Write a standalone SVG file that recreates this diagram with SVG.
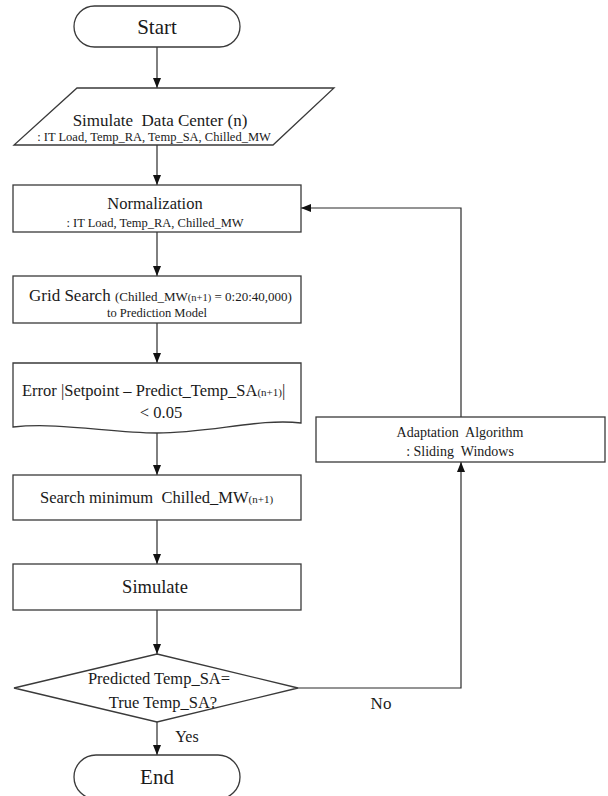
<svg xmlns="http://www.w3.org/2000/svg" width="608" height="796" viewBox="0 0 608 796">
<style>
.shape{fill:#fff;stroke:#3a3a3a;stroke-width:1.3}
.conn{fill:none;stroke:#2a2a2a;stroke-width:1.2}
text{font-family:"Liberation Serif","Times New Roman",serif;fill:#1a1a1a}
.c{text-anchor:middle}
</style>
<defs>
<marker id="arr" markerUnits="userSpaceOnUse" markerWidth="10" markerHeight="10" viewBox="0 0 10 10" refX="10" refY="5" orient="auto">
<path d="M0,1 L10,5 L0,9 Z" fill="#111"/>
</marker>
</defs>
<rect width="608" height="796" fill="#fff"/>
<g id="connectors">
<path class="conn" d="M157,47 V88" marker-end="url(#arr)"/>
<path class="conn" d="M157,145 V185" marker-end="url(#arr)"/>
<path class="conn" d="M157,232 V276" marker-end="url(#arr)"/>
<path class="conn" d="M157,323 V363" marker-end="url(#arr)"/>
<path class="conn" d="M157,433 V475" marker-end="url(#arr)"/>
<path class="conn" d="M157,520 V564" marker-end="url(#arr)"/>
<path class="conn" d="M157,610 V654" marker-end="url(#arr)"/>
<path class="conn" d="M157,722 V755" marker-end="url(#arr)"/>
<path class="conn" d="M298,688 H461 V462" marker-end="url(#arr)"/>
<path class="conn" d="M461,417 V208 H301" marker-end="url(#arr)"/>
<text x="187" y="742" class="c" font-size="16">Yes</text>
<text x="381" y="709" class="c" font-size="17">No</text>
</g>
<g id="start">
<rect class="shape" x="74" y="6" width="166" height="41" rx="20.5"/>
<text x="157" y="34" class="c" font-size="21">Start</text>
</g>
<g id="simulate-dc">
<polygon class="shape" points="77,88 334,88 273,145 14,145"/>
<text x="160" y="126" class="c" font-size="17" xml:space="preserve">Simulate  Data Center (n)</text>
<text x="154" y="141" class="c" font-size="12.5">: IT Load, Temp_RA, Temp_SA, Chilled_MW</text>
</g>
<g id="normalization">
<rect class="shape" x="13" y="185" width="288" height="47"/>
<text x="155" y="209" class="c" font-size="16.5">Normalization</text>
<text x="155" y="227" class="c" font-size="12.5">: IT Load, Temp_RA, Chilled_MW</text>
</g>
<g id="grid-search">
<rect class="shape" x="13" y="276" width="288" height="47"/>
<text x="29" y="301" font-size="17" xml:space="preserve">Grid Search <tspan font-size="13">(Chilled_MW</tspan><tspan font-size="10.5">(n+1)</tspan><tspan font-size="13"> = 0:20:40,000)</tspan></text>
<text x="157" y="317" class="c" font-size="12.5">to Prediction Model</text>
</g>
<g id="error-check">
<path class="shape" d="M13,363 H301 V423 C260,418 210,433 157,433 C110,433 60,422 13,427 Z"/>
<text x="22" y="396" font-size="16.5">Error |Setpoint – Predict_Temp_SA<tspan font-size="11">(n+1)</tspan>|</text>
<text x="161" y="418" class="c" font-size="16.5">&lt; 0.05</text>
</g>
<g id="search-min">
<rect class="shape" x="13" y="475" width="288" height="45"/>
<text x="40" y="503" font-size="16.5" xml:space="preserve">Search minimum  Chilled_MW<tspan font-size="11">(n+1)</tspan></text>
</g>
<g id="simulate">
<rect class="shape" x="13" y="564" width="288" height="46"/>
<text x="155" y="593" class="c" font-size="18.5">Simulate</text>
</g>
<g id="decision">
<polygon class="shape" points="157,654 298,688 157,722 14,688"/>
<text x="159" y="684" class="c" font-size="16.5">Predicted Temp_SA=</text>
<text x="163" y="708" class="c" font-size="16.5">True Temp_SA?</text>
</g>
<g id="adaptation">
<rect class="shape" x="316" y="417" width="289" height="45"/>
<text x="460" y="437" class="c" font-size="14" xml:space="preserve">Adaptation  Algorithm</text>
<text x="460" y="456" class="c" font-size="14" xml:space="preserve">: Sliding  Windows</text>
</g>
<g id="end">
<rect class="shape" x="74" y="755" width="166" height="44" rx="22"/>
<text x="157" y="784" class="c" font-size="21">End</text>
</g>
</svg>
